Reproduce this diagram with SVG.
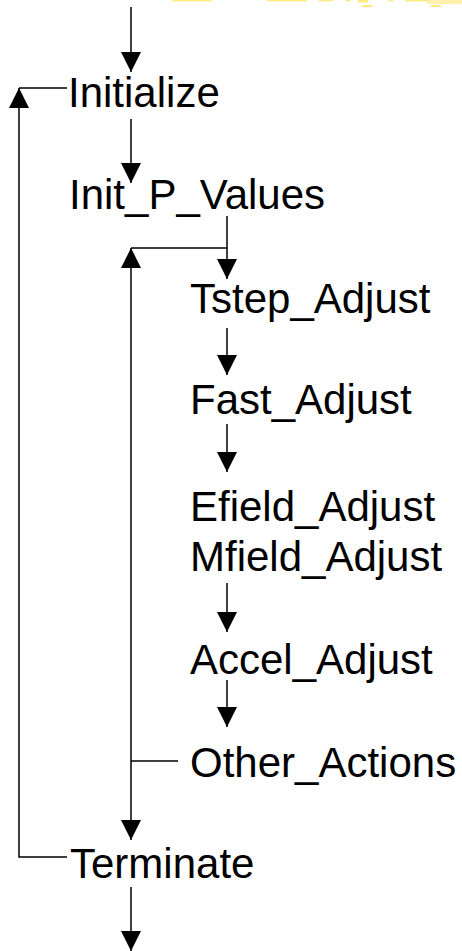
<svg xmlns="http://www.w3.org/2000/svg" width="462" height="951" viewBox="0 0 462 951">
<style>
.lbl{font-family:"Liberation Sans",Arial,sans-serif;font-size:42px;fill:#000}
.ln{fill:none;stroke:#000;stroke-width:1.5}
.ar{marker-end:url(#ah)}
.y{fill:#FFE97A}
</style>
<defs>
<marker id="ah" markerUnits="userSpaceOnUse" markerWidth="20" markerHeight="20" viewBox="0 0 20 20" refX="20" refY="10" orient="auto">
<path d="M0,0 L20,10 L0,20 z" fill="#000"/>
</marker>
</defs>
<g id="title-fragment">
<rect class="y" x="172" y="0" width="40" height="1.3"/>
<rect class="y" x="267" y="0" width="40" height="1.3"/>
<rect class="y" x="319" y="0" width="14" height="1.3"/>
<rect class="y" x="345" y="0" width="5" height="1.3"/>
<rect class="y" x="358" y="0" width="10" height="2.5"/>
<rect class="y" x="388" y="0" width="5" height="1.3"/>
<rect class="y" x="405" y="0" width="22" height="1.3"/>
<rect class="y" x="427" y="0" width="35" height="4" opacity="0.6"/>
<rect class="y" x="362" y="5" width="10" height="2"/>
<rect class="y" x="431" y="5" width="10" height="2"/>
</g>
<g id="connectors">
<path class="ln ar" d="M131,7 V72"/>
<path class="ln ar" d="M131,119 V183"/>
<path class="ln ar" d="M227,216 V279"/>
<path class="ln" d="M131,248 H227"/>
<path class="ln ar" d="M131,761 V248"/>
<path class="ln ar" d="M131,761 V840"/>
<path class="ln" d="M178,761 H131"/>
<path class="ln ar" d="M227,328 V375"/>
<path class="ln ar" d="M227,424 V472"/>
<path class="ln ar" d="M227,583 V632"/>
<path class="ln ar" d="M227,680 V727"/>
<path class="ln ar" d="M67,857 H19 V88"/>
<path class="ln" d="M19,88 H67"/>
<path class="ln ar" d="M131,887 V951"/>
</g>
<g id="initialize"><text class="lbl" x="68" y="107">Initialize</text></g>
<g id="init_p_values"><text class="lbl" x="69" y="209">Init_P_Values</text></g>
<g id="tstep_adjust"><text class="lbl" x="190" y="313">Tstep_Adjust</text></g>
<g id="fast_adjust"><text class="lbl" x="190" y="414">Fast_Adjust</text></g>
<g id="field_adjust"><text class="lbl" x="190" y="521">Efield_Adjust</text><text class="lbl" x="190" y="571">Mfield_Adjust</text></g>
<g id="accel_adjust"><text class="lbl" x="190" y="674">Accel_Adjust</text></g>
<g id="other_actions"><text class="lbl" x="190" y="777">Other_Actions</text></g>
<g id="terminate"><text class="lbl" x="70" y="878">Terminate</text></g>
</svg>
